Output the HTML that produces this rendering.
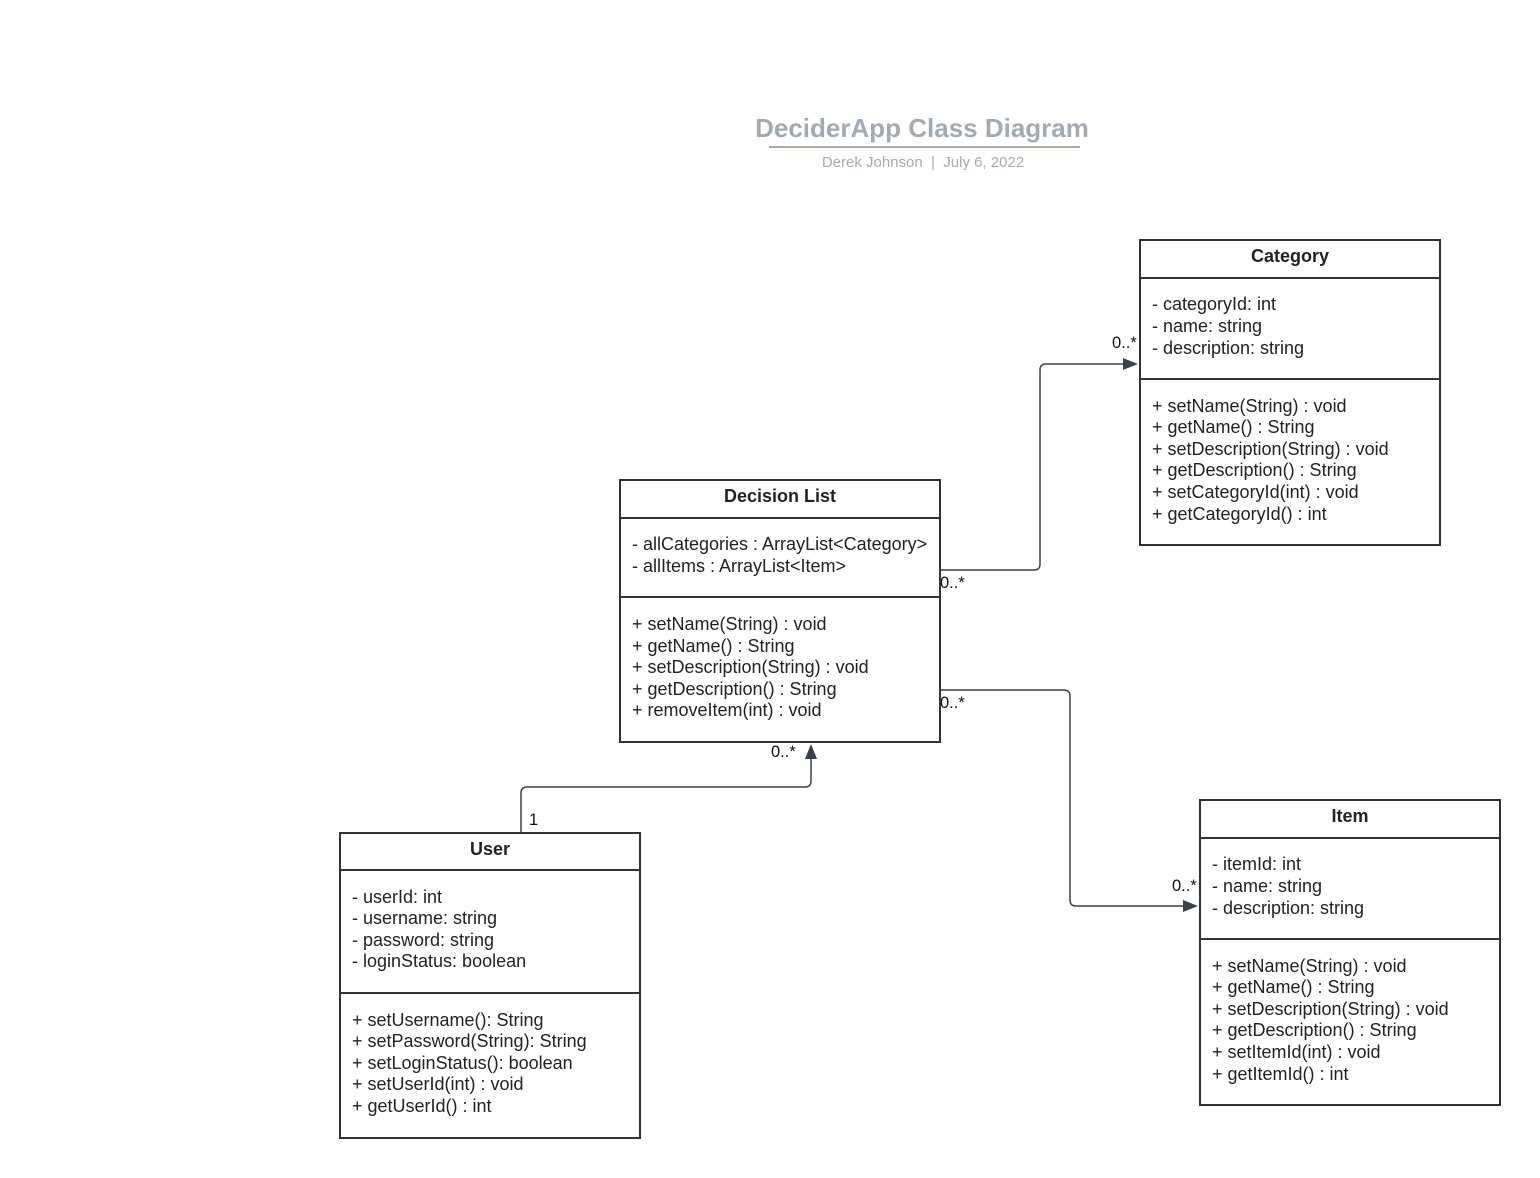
<!DOCTYPE html>
<html><head><meta charset="utf-8"><style>
html,body{margin:0;padding:0;background:#fff;}
svg{display:block;font-family:"Liberation Sans",Arial,sans-serif;}
.t{font-size:18px;fill:#222;}
.h{font-size:18px;font-weight:bold;fill:#222;}
.b{fill:#fff;stroke:#333;stroke-width:2;}
.l{stroke:#333;stroke-width:2;}
.c{fill:none;stroke:#3a414a;stroke-width:1.5;}
.m{font-size:16.5px;fill:#111;}
</style></head><body>
<svg width="1540" height="1178" viewBox="0 0 1540 1178">
<text x="922" y="137" text-anchor="middle" font-size="26" font-weight="bold" fill="#a3aab5">DeciderApp Class Diagram</text>
<line x1="769" y1="147" x2="1080" y2="147" stroke="#a3aab5" stroke-width="2"/>
<text x="923" y="167" text-anchor="middle" font-size="15" fill="#a3aab5" xml:space="preserve" style="white-space:pre">Derek Johnson  |  July 6, 2022</text>

<path class="c" d="M940,570 H1034 Q1040,570 1040,564 V370 Q1040,364 1046,364 H1126"/>
<polygon points="1138,364 1123,358 1123,370" fill="#3a414a"/>
<path class="c" d="M940,690 H1064 Q1070,690 1070,696 V900 Q1070,906 1076,906 H1186"/>
<polygon points="1198,906 1183,900 1183,912" fill="#3a414a"/>
<path class="c" d="M521,833 V793 Q521,787 527,787 H805 Q811,787 811,781 V756"/>
<polygon points="811,744 805,759 817,759" fill="#3a414a"/>
<text class="m" x="940" y="588">0..*</text>
<text class="m" x="1112" y="348">0..*</text>
<text class="m" x="940" y="708">0..*</text>
<text class="m" x="1172" y="891">0..*</text>
<text class="m" x="529" y="825">1</text>
<text class="m" x="771" y="757">0..*</text>

<rect class="b" x="1140" y="240" width="300" height="305"/>
<line class="l" x1="1140" y1="278" x2="1440" y2="278"/>
<line class="l" x1="1140" y1="379" x2="1440" y2="379"/>
<text class="h" x="1290" y="262" text-anchor="middle">Category</text>
<text class="t" x="1152" y="310">- categoryId: int</text>
<text class="t" x="1152" y="332">- name: string</text>
<text class="t" x="1152" y="354">- description: string</text>
<text class="t" x="1152" y="412">+ setName(String) : void</text>
<text class="t" x="1152" y="433">+ getName() : String</text>
<text class="t" x="1152" y="455">+ setDescription(String) : void</text>
<text class="t" x="1152" y="476">+ getDescription() : String</text>
<text class="t" x="1152" y="498">+ setCategoryId(int) : void</text>
<text class="t" x="1152" y="520">+ getCategoryId() : int</text>

<rect class="b" x="620" y="480" width="320" height="262"/>
<line class="l" x1="620" y1="518" x2="940" y2="518"/>
<line class="l" x1="620" y1="597" x2="940" y2="597"/>
<text class="h" x="780" y="502" text-anchor="middle">Decision List</text>
<text class="t" x="632" y="550">- allCategories : ArrayList&lt;Category&gt;</text>
<text class="t" x="632" y="572">- allItems : ArrayList&lt;Item&gt;</text>
<text class="t" x="632" y="630">+ setName(String) : void</text>
<text class="t" x="632" y="652">+ getName() : String</text>
<text class="t" x="632" y="673">+ setDescription(String) : void</text>
<text class="t" x="632" y="695">+ getDescription() : String</text>
<text class="t" x="632" y="716">+ removeItem(int) : void</text>

<rect class="b" x="340" y="833" width="300" height="305"/>
<line class="l" x1="340" y1="870" x2="640" y2="870"/>
<line class="l" x1="340" y1="993" x2="640" y2="993"/>
<text class="h" x="490" y="855" text-anchor="middle">User</text>
<text class="t" x="352" y="903">- userId: int</text>
<text class="t" x="352" y="924">- username: string</text>
<text class="t" x="352" y="946">- password: string</text>
<text class="t" x="352" y="967">- loginStatus: boolean</text>
<text class="t" x="352" y="1026">+ setUsername(): String</text>
<text class="t" x="352" y="1047">+ setPassword(String): String</text>
<text class="t" x="352" y="1069">+ setLoginStatus(): boolean</text>
<text class="t" x="352" y="1090">+ setUserId(int) : void</text>
<text class="t" x="352" y="1112">+ getUserId() : int</text>

<rect class="b" x="1200" y="800" width="300" height="305"/>
<line class="l" x1="1200" y1="838" x2="1500" y2="838"/>
<line class="l" x1="1200" y1="939" x2="1500" y2="939"/>
<text class="h" x="1350" y="822" text-anchor="middle">Item</text>
<text class="t" x="1212" y="870">- itemId: int</text>
<text class="t" x="1212" y="892">- name: string</text>
<text class="t" x="1212" y="914">- description: string</text>
<text class="t" x="1212" y="972">+ setName(String) : void</text>
<text class="t" x="1212" y="993">+ getName() : String</text>
<text class="t" x="1212" y="1015">+ setDescription(String) : void</text>
<text class="t" x="1212" y="1036">+ getDescription() : String</text>
<text class="t" x="1212" y="1058">+ setItemId(int) : void</text>
<text class="t" x="1212" y="1080">+ getItemId() : int</text>
</svg>
</body></html>
